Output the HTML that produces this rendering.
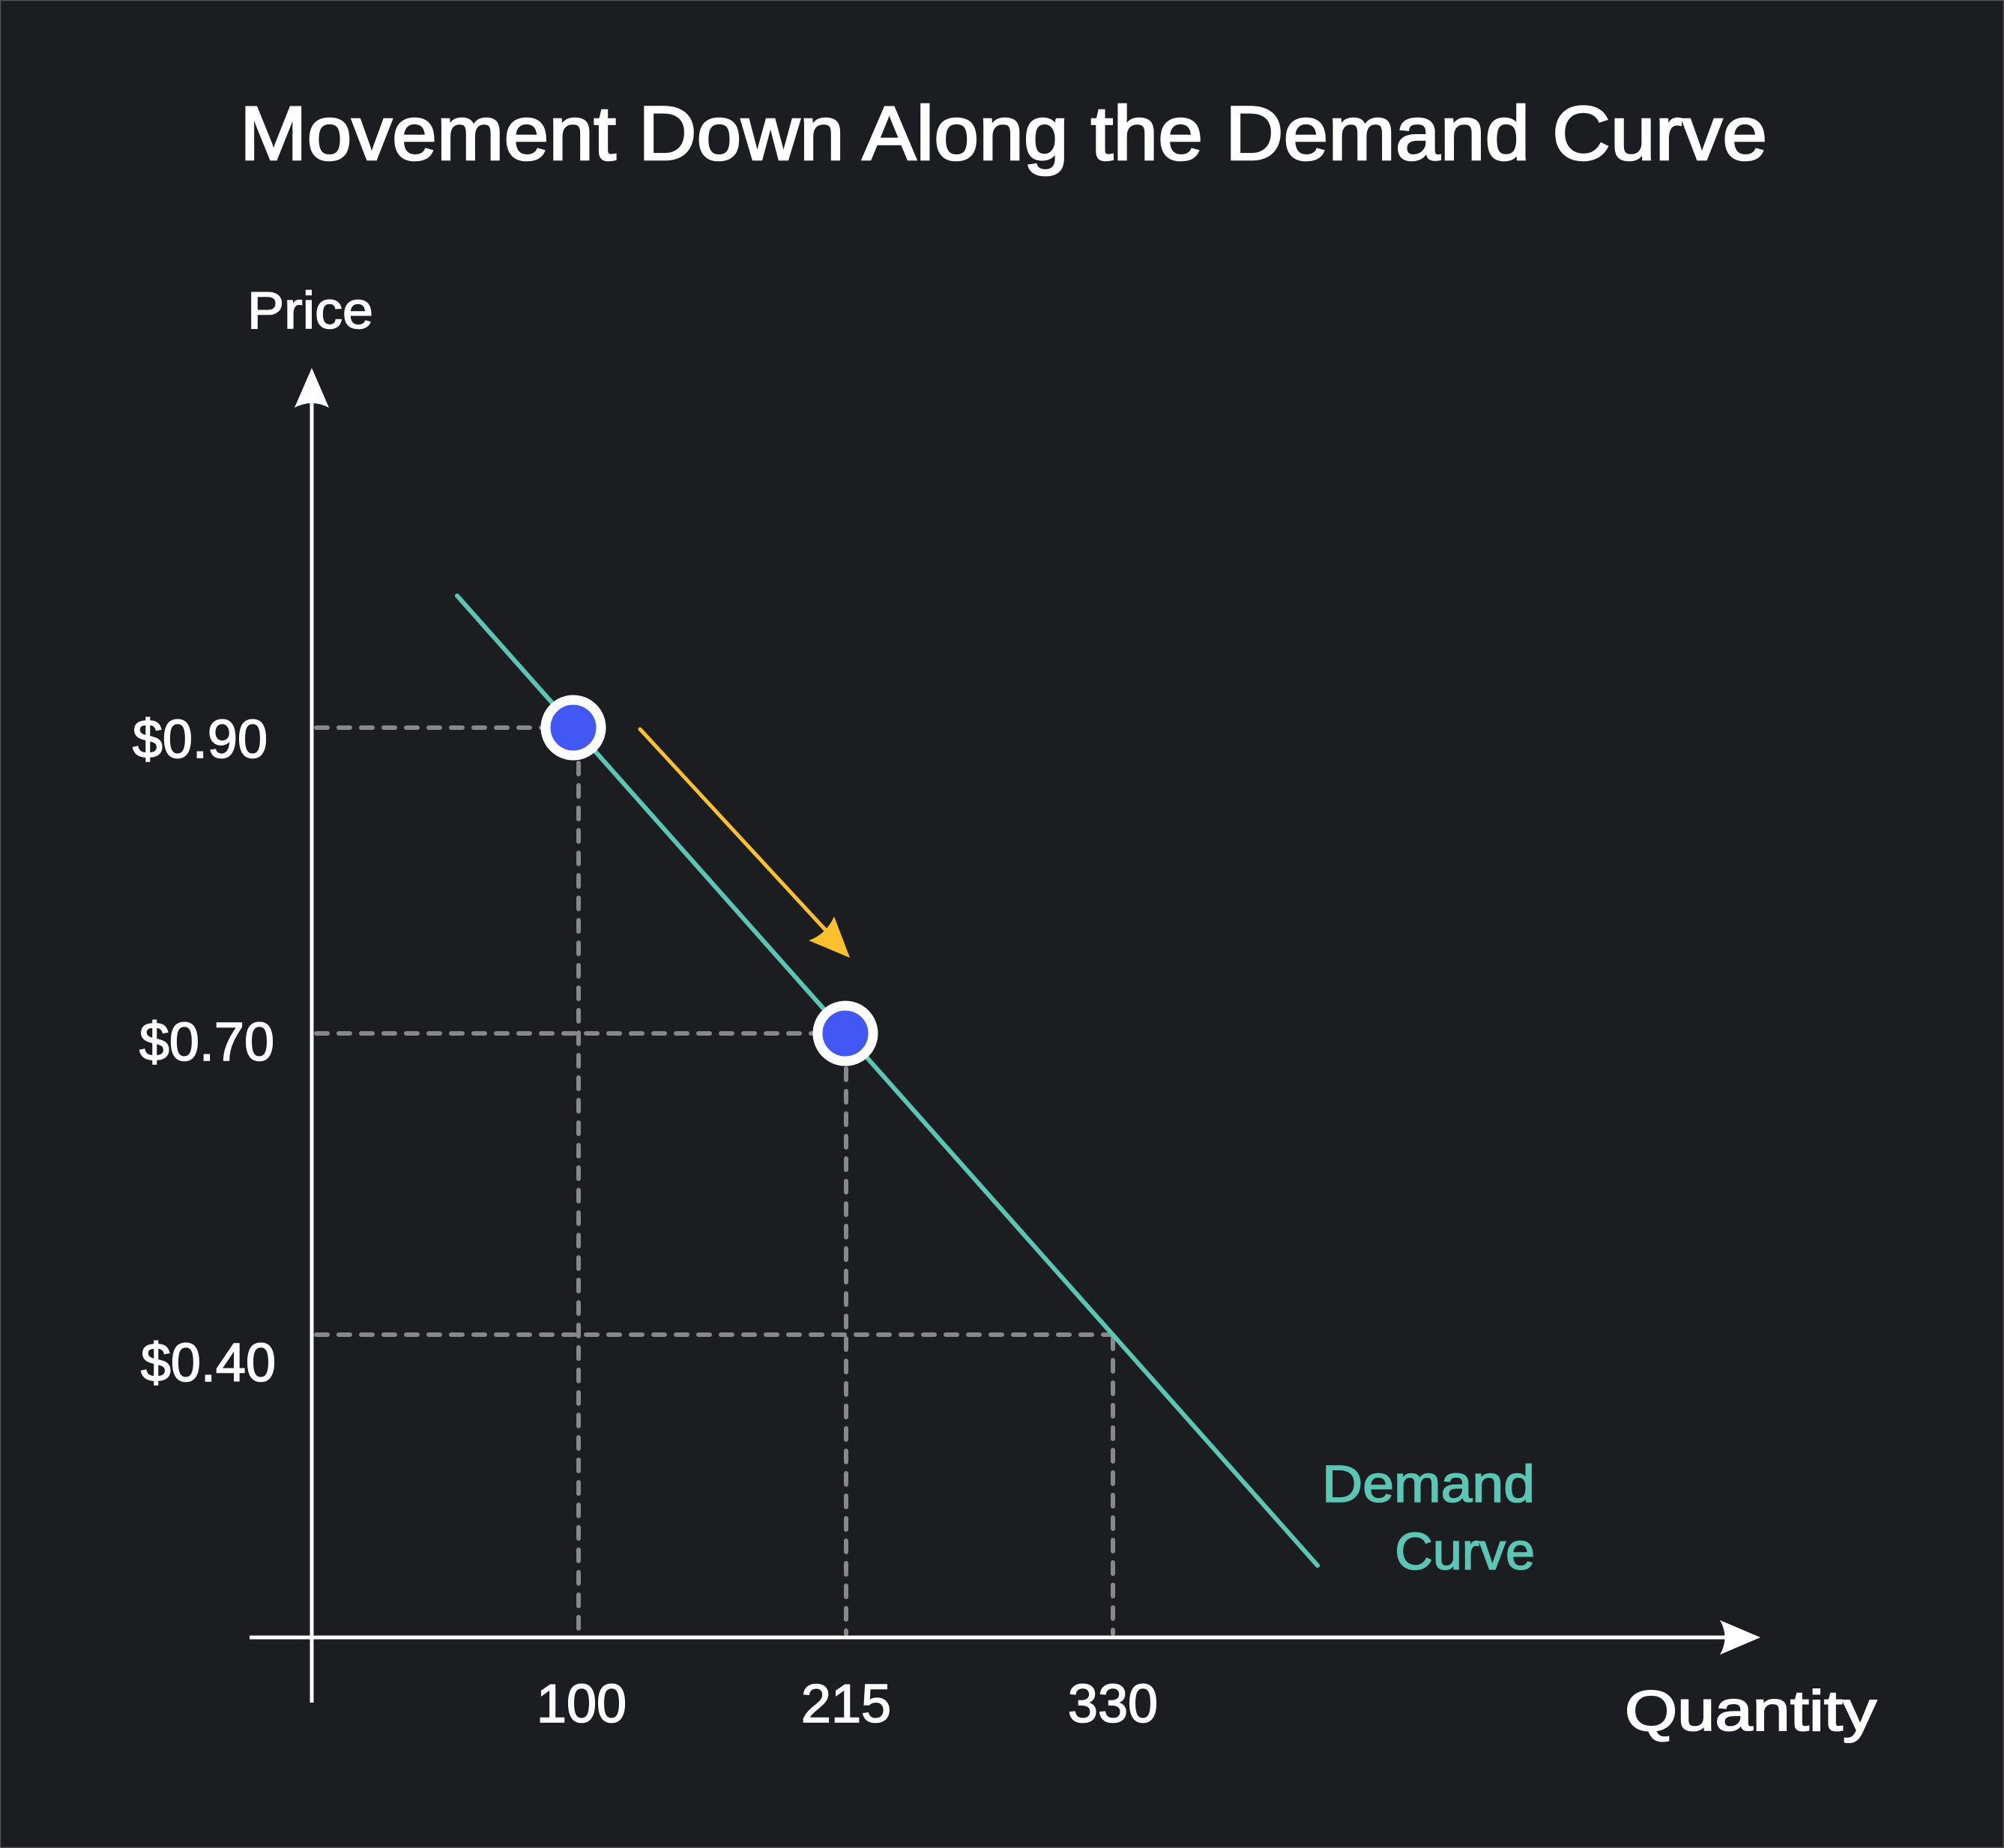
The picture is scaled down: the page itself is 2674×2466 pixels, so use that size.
<!DOCTYPE html>
<html><head><meta charset="utf-8"><style>
html,body{margin:0;padding:0;background:#1c1d21;}
svg{display:block;}
text{font-family:"Liberation Sans",sans-serif;fill:#fff;stroke:#fff;stroke-width:1.6;}
</style></head><body>
<svg width="2674" height="2466" viewBox="0 0 2674 2466" xmlns="http://www.w3.org/2000/svg">
<rect x="0.5" y="0.5" width="2673" height="2465" fill="#1c1d21" stroke="#555" stroke-width="1.5"/>
<text x="1339" y="213" font-size="102" text-anchor="middle" textLength="2038" lengthAdjust="spacingAndGlyphs" style="stroke-width:2.6">Movement Down Along the Demand Curve</text>
<text x="330" y="438" font-size="70" textLength="168" lengthAdjust="spacingAndGlyphs">Price</text>
<g stroke="#888" stroke-width="6" stroke-dasharray="15 15" stroke-linecap="round" fill="none">
<line x1="422" y1="971" x2="725" y2="971"/>
<line x1="422" y1="1379" x2="1088" y2="1379"/>
<line x1="422" y1="1781" x2="1485" y2="1781"/>
<line x1="772" y1="1018" x2="772" y2="2180"/>
<line x1="1129" y1="1426" x2="1129" y2="2180"/>
<line x1="1485" y1="1785" x2="1485" y2="2180"/>
</g>
<line x1="416" y1="530" x2="416" y2="2272" stroke="#fff" stroke-width="5"/>
<path d="M416 491 L439 544 Q416 532 393 544 Z" fill="#fff"/>
<line x1="333" y1="2185" x2="2310" y2="2185" stroke="#fff" stroke-width="5"/>
<path d="M2349 2185 L2295 2162 Q2308 2185 2295 2208 Z" fill="#fff"/>
<line x1="610" y1="795" x2="1758" y2="2089" stroke="#5cc6b5" stroke-width="6" stroke-linecap="round"/>
<line x1="854" y1="973" x2="1108" y2="1248" stroke="#fbc02d" stroke-width="5" stroke-linecap="round"/>
<path d="M1134 1278 L1079 1255 Q1102 1247 1113 1223 Z" fill="#fbc02d"/>
<circle cx="765" cy="971" r="37" fill="#4357f5" stroke="#fff" stroke-width="13"/>
<circle cx="1128" cy="1379" r="37" fill="#4357f5" stroke="#fff" stroke-width="13"/>
<g font-size="72" text-anchor="end">
<text x="357" y="1011">$0.90</text>
<text x="366" y="1415">$0.70</text>
<text x="368" y="1843">$0.40</text>
</g>
<g font-size="72" text-anchor="middle">
<text x="776" y="2298">100</text>
<text x="1129" y="2298">215</text>
<text x="1485" y="2298">330</text>
</g>
<text x="2168" y="2309" font-size="76" textLength="336" lengthAdjust="spacingAndGlyphs" style="stroke-width:2">Quantity</text>
<g font-size="70" text-anchor="end">
<text x="2048" y="2004" textLength="284" lengthAdjust="spacingAndGlyphs" style="fill:#5cc6b5;stroke:#5cc6b5">Demand</text>
<text x="2048" y="2094" style="fill:#5cc6b5;stroke:#5cc6b5">Curve</text>
</g>
</svg>
</body></html>
